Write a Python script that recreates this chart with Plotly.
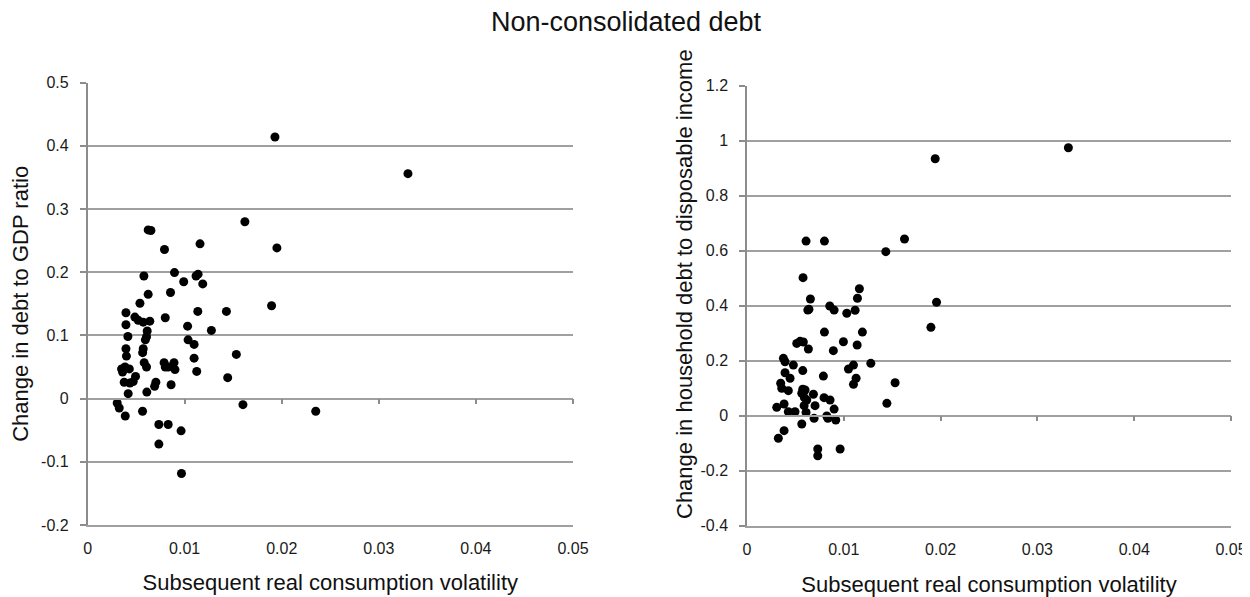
import plotly.graph_objects as go

# Left panel: change in debt to GDP ratio vs subsequent real consumption volatility
left_x = [0.0193, 0.0330, 0.0195, 0.00624, 0.00652, 0.0162, 0.00792, 0.01158, 0.0058, 0.00895,
          0.0099, 0.01117, 0.01138, 0.01186, 0.00624, 0.00854, 0.00539, 0.01895, 0.00395, 0.00487,
          0.00521, 0.00573, 0.00641, 0.0080, 0.01135, 0.0143, 0.00395, 0.0103, 0.01275, 0.00614,
          0.00415, 0.00607, 0.00595, 0.01035, 0.01097, 0.01532, 0.00395, 0.0040, 0.00573, 0.00567,
          0.01097, 0.00583, 0.00607, 0.00788, 0.0089, 0.0080, 0.0090, 0.0083, 0.0035, 0.00385,
          0.0043, 0.0036, 0.01124, 0.01443, 0.00494, 0.00377, 0.00436, 0.0047, 0.00703, 0.0069,
          0.0086, 0.00418, 0.0061, 0.00305, 0.00326, 0.0160, 0.00388, 0.00566, 0.00734, 0.0083,
          0.00963, 0.00734, 0.00967, 0.0235]
left_y = [0.414, 0.356, 0.2385, 0.267, 0.266, 0.280, 0.236, 0.245, 0.194, 0.1995,
          0.185, 0.194, 0.197, 0.1816, 0.165, 0.168, 0.151, 0.147, 0.136, 0.129,
          0.124, 0.121, 0.1226, 0.128, 0.138, 0.138, 0.117, 0.1147, 0.108, 0.107,
          0.0984, 0.098, 0.093, 0.093, 0.0858, 0.070, 0.079, 0.0673, 0.079, 0.0727,
          0.064, 0.0569, 0.050, 0.0569, 0.0569, 0.050, 0.046, 0.050, 0.047, 0.050,
          0.047, 0.042, 0.0431, 0.0332, 0.0352, 0.026, 0.0247, 0.027, 0.026, 0.0194,
          0.022, 0.0079, 0.0104, -0.007, -0.0148, -0.0095, -0.0275, -0.020, -0.041, -0.041,
          -0.051, -0.072, -0.1185, -0.020]

# Right panel: change in household debt to disposable income
right_x = [0.01944, 0.0332, 0.01627, 0.01434, 0.01161, 0.01141, 0.01117, 0.01031, 0.01958, 0.00579,
           0.00655, 0.00628, 0.0064, 0.00855, 0.009, 0.008, 0.01192, 0.019, 0.00514, 0.00548,
           0.00582, 0.00634, 0.00892, 0.00996, 0.01138, 0.00376, 0.00393, 0.00479, 0.01279, 0.00576,
           0.01048, 0.011, 0.00393, 0.00445, 0.00789, 0.01127, 0.011, 0.0153, 0.00348, 0.00359,
           0.00427, 0.00576, 0.006, 0.00566, 0.00686, 0.00796, 0.00858, 0.00593, 0.00617, 0.00703,
           0.0059, 0.0061, 0.00307, 0.00383, 0.00427, 0.00496, 0.009, 0.01445, 0.00693, 0.00824,
           0.00835, 0.00917, 0.00566, 0.00383, 0.00324, 0.00731, 0.00731, 0.00962, 0.0061, 0.0080]
right_y = [0.9345, 0.9745, 0.6425, 0.5964, 0.4618, 0.4269, 0.3833, 0.3724, 0.4124, 0.502,
           0.4244, 0.384, 0.387, 0.399, 0.384, 0.304, 0.304, 0.3213, 0.263, 0.2705,
           0.268, 0.2425, 0.2364, 0.269, 0.257, 0.2087, 0.196, 0.184, 0.1905, 0.164,
           0.17, 0.184, 0.156, 0.136, 0.144, 0.136, 0.114, 0.12, 0.118, 0.1,
           0.091, 0.096, 0.0935, 0.0815, 0.078, 0.0655, 0.057, 0.0655, 0.057, 0.0364,
           0.0364, 0.012, 0.0305, 0.0425, 0.0145, 0.0145, 0.024, 0.045, -0.0095, -0.001,
           -0.0095, -0.0156, -0.030, -0.0545, -0.082, -0.121, -0.1455, -0.121, 0.635, 0.635]

x_ticks = [0, 0.01, 0.02, 0.03, 0.04, 0.05]
x_ticktext = ["0", "0.01", "0.02", "0.03", "0.04", "0.05"]
left_yticks = [-0.2, -0.1, 0, 0.1, 0.2, 0.3, 0.4, 0.5]
left_yticktext = ["-0.2", "-0.1", "0", "0.1", "0.2", "0.3", "0.4", "0.5"]
right_yticks = [-0.4, -0.2, 0, 0.2, 0.4, 0.6, 0.8, 1.0, 1.2]
right_yticktext = ["-0.4", "-0.2", "0", "0.2", "0.4", "0.6", "0.8", "1", "1.2"]

title_text = "Non-consolidated debt"
x_title = "Subsequent real consumption volatility"
left_ytitle = "Change in debt to GDP ratio"
right_ytitle = "Change in household debt to disposable income"

# The page body has an 8px margin, so the figure is sized to fill the rest of the window
OFF = 8
W, H = 1250 - OFF, 597 - OFF
FONT = "Liberation Sans, Arial, sans-serif"
GRID = "#a0a0a0"
AX = "#8c8c8c"

def px_x(v):
    return (v - OFF) / W

def px_y(v):
    return 1 - (v - OFF) / H

fig = go.Figure()
marker = dict(color="black", size=9, line=dict(width=0))
fig.add_trace(go.Scatter(x=left_x, y=left_y, mode="markers", marker=marker,
                         xaxis="x", yaxis="y", showlegend=False, hoverinfo="x+y"))
fig.add_trace(go.Scatter(x=right_x, y=right_y, mode="markers", marker=marker,
                         xaxis="x2", yaxis="y2", showlegend=False, hoverinfo="x+y"))
# empty traces to attach the axis-crossing tick axes
fig.add_trace(go.Scatter(x=[], y=[], xaxis="x3", yaxis="y", showlegend=False))
fig.add_trace(go.Scatter(x=[], y=[], xaxis="x4", yaxis="y2", showlegend=False))

ldom_y = [px_y(525.0), px_y(82.7)]
rdom_y = [px_y(525.7), px_y(85.7)]
ldom = [px_x(87.6), px_x(573.0)]
rdom = [px_x(747.0), px_x(1231.0)]

tickfont = dict(family=FONT, size=16, color="#1a1a1a")
titlefont = dict(family=FONT, size=22, color="#111")

def xaxis_common(dom, anchor, standoff):
    return dict(domain=dom, anchor=anchor, range=[0, 0.05], tickvals=x_ticks, ticktext=x_ticktext,
                showgrid=False, zeroline=False, showline=True, linecolor=GRID, linewidth=1.5,
                ticks="", tickfont=tickfont, ticklabelstandoff=8,
                title=dict(text=x_title, font=titlefont, standoff=standoff))

def yaxis_common(dom, anchor, rng, vals, text, title, standoff):
    return dict(domain=dom, anchor=anchor, range=rng, tickvals=vals, ticktext=text,
                showgrid=True, gridcolor=GRID, gridwidth=1.5, zeroline=False,
                showline=True, linecolor=AX, linewidth=1.5, ticks="outside", ticklen=6,
                tickcolor=AX, tickwidth=1.5, tickfont=tickfont, ticklabelstandoff=8,
                title=dict(text=title, font=titlefont, standoff=standoff))

# paper position of the y = 0 line in each panel
pos_left = ldom_y[0] + (ldom_y[1] - ldom_y[0]) * (0.2 / 0.7)
pos_right = rdom_y[0] + (rdom_y[1] - rdom_y[0]) * (0.4 / 1.6)

def cross_axis(over, dom, pos):
    return dict(overlaying=over, domain=dom, anchor="free", position=pos, range=[0, 0.05],
                tickvals=x_ticks[1:], showticklabels=False, showgrid=False, zeroline=False,
                showline=True, linecolor=GRID, linewidth=1.5, ticks="outside", ticklen=5,
                tickcolor=AX, tickwidth=1.5, side="bottom")

fig.update_layout(
    width=W, height=H,
    margin=dict(l=0, r=0, t=0, b=0, autoexpand=False),
    paper_bgcolor="white", plot_bgcolor="white",
    font=dict(family=FONT, size=16, color="#1a1a1a"),
    title=dict(text=title_text, x=px_x(626), xanchor="center", y=px_y(22), yanchor="middle",
               font=dict(family=FONT, size=27, color="#111")),
    xaxis=xaxis_common(ldom, "y", 19),
    xaxis2=xaxis_common(rdom, "y2", 23),
    xaxis3=cross_axis("x", ldom, pos_left),
    xaxis4=cross_axis("x2", rdom, pos_right),
    yaxis=yaxis_common(ldom_y, "x", [-0.2, 0.5], left_yticks, left_yticktext, left_ytitle, 11),
    yaxis2=yaxis_common(rdom_y, "x2", [-0.4, 1.2], right_yticks, right_yticktext, None, 3),
    annotations=[dict(text=right_ytitle, textangle=-90, xref="paper", yref="paper",
                      x=px_x(684), y=px_y(284), xanchor="center", yanchor="middle",
                      showarrow=False, font=titlefont)],
)

fig.write_html("out.html")
